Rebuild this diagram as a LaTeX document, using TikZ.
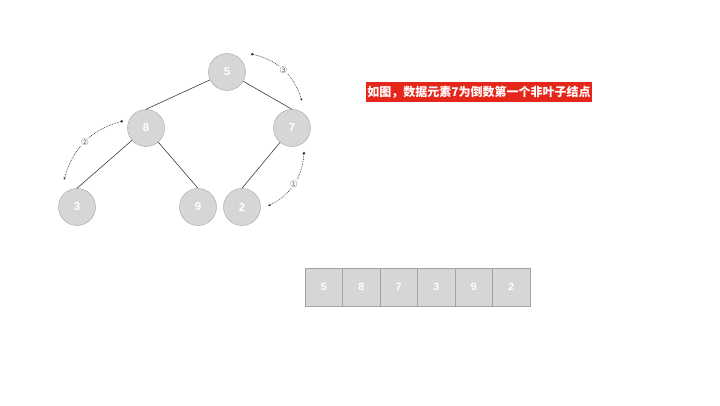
\documentclass[tikz,border=0pt]{standalone}
\usepackage{fontspec}
\usepackage{xcolor}
\usetikzlibrary{positioning,arrows.meta}
\setmainfont{Liberation Sans}
\newfontfamily\cjkfont{Noto Sans CJK SC}
\newfontfamily\symfont{DejaVu Sans}

\definecolor{nodefill}{HTML}{D6D6D6}
\definecolor{nodeline}{HTML}{A3A3A3}
\definecolor{edgeline}{HTML}{3C3C3C}
\definecolor{notered}{HTML}{E5261A}

\begin{document}
\begin{tikzpicture}[x=1pt,y=1pt,>=Stealth]
\tikzset{
  heapnode/.style={circle, draw=nodeline, fill=nodefill, minimum size=37pt, inner sep=0pt,
    text=white, font=\fontsize{11.5}{13}\selectfont\bfseries},
  cell/.style={rectangle, draw=nodeline, fill=nodefill, minimum width=37.5pt, minimum height=38pt,
    inner sep=0pt, text=white, font=\fontsize{10.5}{12}\selectfont\bfseries},
  tree/.style={draw=edgeline, line width=0.6pt},
  hop/.style={densely dotted, draw=black!80, line width=0.7pt,
    {Circle[open,length=2.5pt]}-{Stealth[open,length=3pt]}},
  step label/.style={fill=white, inner sep=0.5pt, text=black!55, font=\symfont\fontsize{9}{10}\selectfont}
}
\useasboundingbox (0,0) rectangle (720,405);

% heap as a tree
\node[heapnode] (n5) at (227,333) {5};
\node[heapnode] (n8) at (146,277) {8};
\node[heapnode] (n7) at (292,277) {7};
\node[heapnode] (n3) at (77,198) {3};
\node[heapnode] (n9) at (198,198) {9};
\node[heapnode] (n2) at (242,198) {2};

\draw[tree] (n5) -- (n8.north);
\draw[tree] (n5) -- (n7.north);
\draw[tree] (n8) -- (n3.north);
\draw[tree] (n8) -- (n9.north);
\draw[tree] (n7) -- (n2.north);

% order of the sift steps
\coordinate (s1a) at (304,253);
\coordinate (s1b) at (268,199);
\coordinate (s2a) at (123,284);
\coordinate (s2b) at (64,225);
\coordinate (s3a) at (251,351);
\coordinate (s3b) at (302,304);

\draw[hop] (s1a) to[bend left=30] node[step label, pos=0.5] {①} (s1b);
\draw[hop] (s2a) to[bend right=30] node[step label, pos=0.5] {②} (s2b);
\draw[hop] (s3a) to[bend left=30] node[step label, pos=0.5] {③} (s3b);

\node[fill=notered, text=white, inner sep=1.5pt, minimum height=20pt,
  font=\cjkfont\fontsize{12}{14}\selectfont\bfseries] (note) at (479,313) {如图，数据元素7为倒数第一个非叶子结点};

% heap as an array
\node[cell] (c1) at (323.75,118) {5};
\node[cell, right=-0.4pt of c1] (c2) {8};
\node[cell, right=-0.4pt of c2] (c3) {7};
\node[cell, right=-0.4pt of c3] (c4) {3};
\node[cell, right=-0.4pt of c4] (c5) {9};
\node[cell, right=-0.4pt of c5] (c6) {2};

\end{tikzpicture}
\end{document}
